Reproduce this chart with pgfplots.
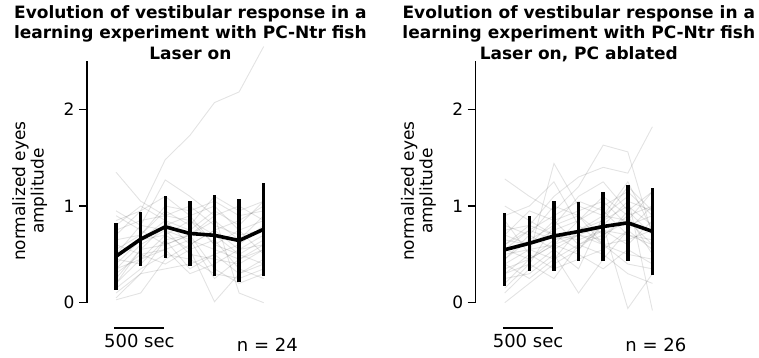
\documentclass[border=0pt]{standalone}
\usepackage{pgfplots}
\pgfplotsset{compat=1.18}
\usepackage{fontspec}
\setmainfont{DejaVu Sans}
\newcommand\tf{\fontsize{17}{20}\selectfont}
\newcommand\af{\fontsize{18}{21}\selectfont}
\begin{document}
\begin{tikzpicture}[x=1pt,y=1pt]
\pgfplotsset{
  panel/.style={
    scale only axis, width=206pt, height=241.7pt,
    anchor=south west,
    ymin=0, ymax=2.5,
    xmin=-1.18, xmax=7.19,
    axis y line*=left, axis x line=none,
    ytick={0,1,2},
    tick align=outside, major tick length=8pt,
    y axis line style={line width=1.4pt, black},
    ytick style={line width=1.4pt, black},
    /pgf/number format/assume math mode=true,
    yticklabel style={font=\tf, xshift=-1pt},
    clip=false,
  },
  gl/.style={draw=black, draw opacity=0.11, line width=0.9pt, no markers},
  mn/.style={black, line width=3.6pt, line join=round, no markers,
    error bars/.cd, y dir=both, y explicit,
    error bar style={line width=3.4pt}, error mark=none},
  sb/.style={black, line width=1.8pt, no markers},
}
% ---------------- left panel ----------------
\begin{axis}[panel, at={(87pt,55.3pt)}]
\addplot[gl] coordinates {(0,0.70) (1,0.95) (2,1.48) (3,1.73) (4,2.07) (5,2.18) (6,2.65)};
\addplot[gl] coordinates {(0,1.35) (1,1.05) (2,0.90) (3,0.85) (4,0.60) (5,0.50) (6,0.40)};
\addplot[gl] coordinates {(0,0.03) (1,0.10) (2,0.45) (3,0.60) (4,0.75) (5,0.55) (6,0.70)};
\addplot[gl] coordinates {(0,0.20) (1,0.45) (2,0.70) (3,0.55) (4,0.01) (5,0.30) (6,0.45)};
\addplot[gl] coordinates {(0,0.50) (1,0.80) (2,1.27) (3,1.10) (4,0.90) (5,0.10) (6,0.00)};
\addplot[gl] coordinates {(0,0.35) (1,0.60) (2,0.75) (3,0.50) (4,0.45) (5,0.40) (6,0.55)};
\addplot[gl] coordinates {(0,0.65) (1,0.70) (2,0.95) (3,0.80) (4,1.10) (5,0.95) (6,1.05)};
\addplot[gl] coordinates {(0,0.90) (1,0.75) (2,0.60) (3,0.70) (4,0.85) (5,0.65) (6,0.90)};
\addplot[gl] coordinates {(0,0.25) (1,0.55) (2,0.80) (3,0.90) (4,0.60) (5,0.75) (6,0.50)};
\addplot[gl] coordinates {(0,0.45) (1,0.40) (2,0.65) (3,0.35) (4,0.50) (5,0.60) (6,0.80)};
\addplot[gl] coordinates {(0,0.80) (1,1.00) (2,0.85) (3,0.60) (4,0.75) (5,0.85) (6,1.00)};
\addplot[gl] coordinates {(0,0.15) (1,0.35) (2,0.50) (3,0.45) (4,0.30) (5,0.25) (6,0.35)};
\addplot[gl] coordinates {(0,0.55) (1,0.70) (2,1.00) (3,0.95) (4,1.05) (5,0.90) (6,0.95)};
\addplot[gl] coordinates {(0,0.40) (1,0.65) (2,0.70) (3,0.85) (4,0.70) (5,0.50) (6,0.65)};
\addplot[gl] coordinates {(0,0.60) (1,0.50) (2,0.55) (3,0.30) (4,0.40) (5,0.55) (6,0.60)};
\addplot[gl] coordinates {(0,0.10) (1,0.30) (2,0.65) (3,0.70) (4,0.90) (5,1.00) (6,0.85)};
\addplot[gl] coordinates {(0,0.75) (1,0.85) (2,0.90) (3,1.00) (4,0.80) (5,0.70) (6,0.75)};
\addplot[gl] coordinates {(0,0.30) (1,0.50) (2,0.40) (3,0.55) (4,0.65) (5,0.35) (6,0.25)};
\addplot[gl] coordinates {(0,0.95) (1,0.80) (2,0.75) (3,0.65) (4,0.55) (5,0.45) (6,0.55)};
\addplot[gl] coordinates {(0,0.50) (1,0.65) (2,0.85) (3,0.75) (4,0.95) (5,0.80) (6,1.05)};
\addplot[gl] coordinates {(0,0.20) (1,0.55) (2,0.60) (3,0.70) (4,0.35) (5,0.20) (6,0.30)};
\addplot[gl] coordinates {(0,0.85) (1,0.95) (2,1.10) (3,0.90) (4,1.00) (5,0.75) (6,0.85)};
\addplot[gl] coordinates {(0,0.35) (1,0.45) (2,0.55) (3,0.65) (4,0.25) (5,0.45) (6,0.60)};
\addplot[gl] coordinates {(0,0.05) (1,0.30) (2,0.35) (3,0.40) (4,0.50) (5,0.30) (6,0.40)};
\addplot[mn] coordinates {
  (0,0.480) +- (0,0.349)
  (1,0.657) +- (0,0.278)
  (2,0.785) +- (0,0.319)
  (3,0.716) +- (0,0.337)
  (4,0.697) +- (0,0.418)
  (5,0.643) +- (0,0.426)
  (6,0.760) +- (0,0.481)};
\addplot[sb] coordinates {(-0.07,-0.259) (1.96,-0.259)};
\node[font=\af, anchor=base] at (axis cs:0.947,-0.468) {500 sec};
\node[font=\af, anchor=base] at (axis cs:6.15,-0.505) {n = 24};
\node[font=\tf, rotate=90, anchor=base] at (axis cs:-3.69,1.155) {normalized eyes};
\node[font=\tf, rotate=90, anchor=base] at (axis cs:-2.94,1.155) {amplitude};
\node[font=\tf\bfseries, anchor=base] at (axis cs:3.02,2.939) {Evolution of vestibular response in a};
\node[font=\tf\bfseries, anchor=base] at (axis cs:3.02,2.732) {learning experiment with PC-Ntr fish};
\node[font=\tf\bfseries, anchor=base] at (axis cs:3.02,2.52) {Laser on};
\end{axis}
% ---------------- right panel ----------------
\begin{axis}[panel, at={(475.7pt,55.3pt)}]
\addplot[gl] coordinates {(0,0.60) (1,0.80) (2,1.10) (3,1.30) (4,1.40) (5,1.34) (6,1.82)};
\addplot[gl] coordinates {(0,1.28) (1,1.10) (2,0.95) (3,1.20) (4,1.63) (5,1.56) (6,0.70)};
\addplot[gl] coordinates {(0,0.00) (1,0.20) (2,0.40) (3,0.55) (4,0.80) (5,-0.06) (6,0.30)};
\addplot[gl] coordinates {(0,0.30) (1,0.50) (2,1.44) (3,1.00) (4,0.90) (5,1.10) (6,-0.08)};
\addplot[gl] coordinates {(0,0.55) (1,0.45) (2,0.60) (3,0.70) (4,0.65) (5,0.95) (6,1.15)};
\addplot[gl] coordinates {(0,0.80) (1,0.70) (2,0.55) (3,0.35) (4,0.90) (5,0.85) (6,1.15)};
\addplot[gl] coordinates {(0,0.15) (1,0.40) (2,0.25) (3,0.60) (4,0.75) (5,0.70) (6,0.60)};
\addplot[gl] coordinates {(0,0.45) (1,0.65) (2,0.80) (3,0.90) (4,0.60) (5,0.50) (6,0.45)};
\addplot[gl] coordinates {(0,1.00) (1,0.85) (2,0.70) (3,0.55) (4,0.85) (5,1.20) (6,0.95)};
\addplot[gl] coordinates {(0,0.25) (1,0.30) (2,0.50) (3,0.10) (4,0.45) (5,0.75) (6,0.55)};
\addplot[gl] coordinates {(0,0.70) (1,0.60) (2,0.85) (3,0.95) (4,1.05) (5,0.80) (6,0.90)};
\addplot[gl] coordinates {(0,0.40) (1,0.55) (2,0.45) (3,0.60) (4,0.70) (5,0.90) (6,0.50)};
\addplot[gl] coordinates {(0,0.90) (1,1.00) (2,1.25) (3,0.80) (4,0.60) (5,0.40) (6,0.35)};
\addplot[gl] coordinates {(0,0.35) (1,0.45) (2,0.65) (3,0.75) (4,0.85) (5,1.00) (6,0.80)};
\addplot[gl] coordinates {(0,0.60) (1,0.75) (2,0.90) (3,1.05) (4,0.95) (5,0.70) (6,0.65)};
\addplot[gl] coordinates {(0,0.10) (1,0.35) (2,0.55) (3,0.70) (4,0.60) (5,0.65) (6,0.75)};
\addplot[gl] coordinates {(0,0.50) (1,0.55) (2,0.60) (3,0.85) (4,1.10) (5,0.90) (6,1.00)};
\addplot[gl] coordinates {(0,0.75) (1,0.80) (2,0.70) (3,0.65) (4,0.75) (5,0.60) (6,0.85)};
\addplot[gl] coordinates {(0,0.20) (1,0.45) (2,0.60) (3,0.50) (4,0.35) (5,0.55) (6,0.40)};
\addplot[gl] coordinates {(0,0.65) (1,0.60) (2,0.75) (3,0.85) (4,1.00) (5,1.15) (6,0.90)};
\addplot[gl] coordinates {(0,0.45) (1,0.70) (2,1.00) (3,0.90) (4,0.70) (5,0.85) (6,0.60)};
\addplot[gl] coordinates {(0,0.85) (1,0.50) (2,0.35) (3,0.45) (4,0.55) (5,0.75) (6,1.00)};
\addplot[gl] coordinates {(0,0.30) (1,0.40) (2,0.80) (3,1.10) (4,1.25) (5,0.95) (6,0.70)};
\addplot[gl] coordinates {(0,0.55) (1,0.75) (2,0.65) (3,0.70) (4,0.80) (5,1.05) (6,0.95)};
\addplot[gl] coordinates {(0,0.70) (1,0.95) (2,0.85) (3,0.60) (4,0.50) (5,0.30) (6,0.20)};
\addplot[gl] coordinates {(0,0.40) (1,0.25) (2,0.45) (3,0.75) (4,0.90) (5,1.25) (6,0.75)};
\addplot[mn] coordinates {
  (0,0.548) +- (0,0.376)
  (1,0.614) +- (0,0.286)
  (2,0.690) +- (0,0.362)
  (3,0.736) +- (0,0.302)
  (4,0.788) +- (0,0.354)
  (5,0.826) +- (0,0.392)
  (6,0.738) +- (0,0.452)};
\addplot[sb] coordinates {(-0.07,-0.259) (1.96,-0.259)};
\node[font=\af, anchor=base] at (axis cs:0.947,-0.468) {500 sec};
\node[font=\af, anchor=base] at (axis cs:6.14,-0.505) {n = 26};
\node[font=\tf, rotate=90, anchor=base] at (axis cs:-3.69,1.155) {normalized eyes};
\node[font=\tf, rotate=90, anchor=base] at (axis cs:-2.94,1.155) {amplitude};
\node[font=\tf\bfseries, anchor=base] at (axis cs:3.01,2.939) {Evolution of vestibular response in a};
\node[font=\tf\bfseries, anchor=base] at (axis cs:3.01,2.732) {learning experiment with PC-Ntr fish};
\node[font=\tf\bfseries, anchor=base] at (axis cs:3.01,2.52) {Laser on, PC ablated};
\end{axis}
\pgfresetboundingbox
\path[use as bounding box] (0,0) rectangle (759,358);
\end{tikzpicture}
\end{document}
